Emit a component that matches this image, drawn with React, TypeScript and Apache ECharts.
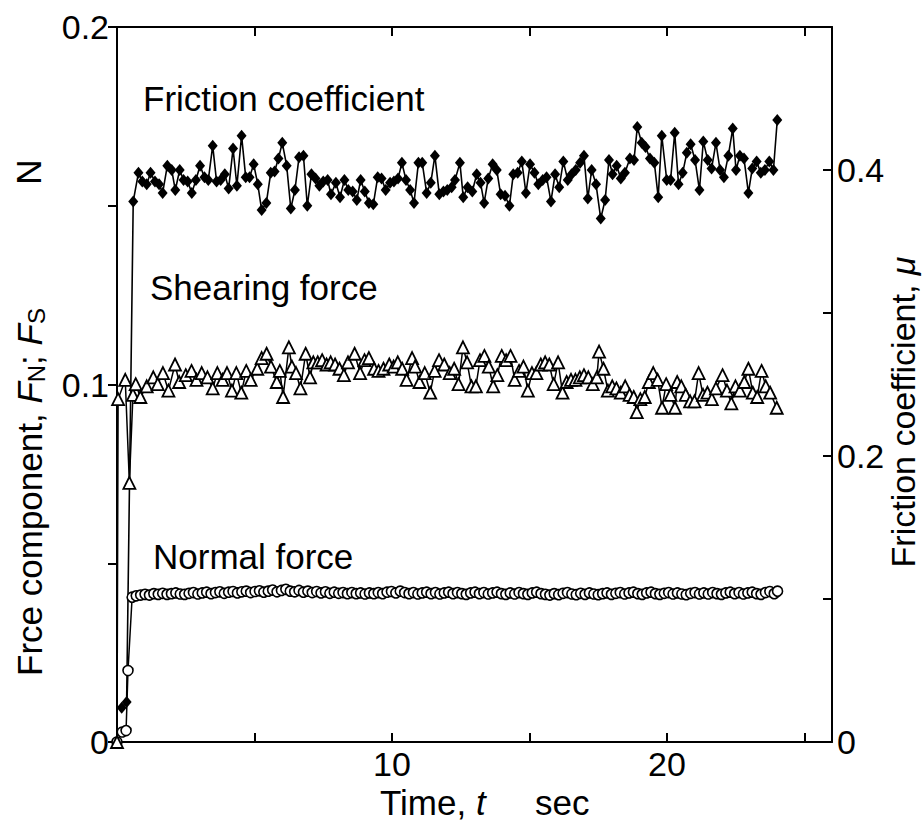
import React, { useEffect, useRef } from 'react';
import * as echarts from 'echarts';

const FONT = '"Liberation Sans", Arial, Helvetica, sans-serif';

const xLabelsShown = ['10', '20'];
const leftLabelsShown = ['0', '0.1', '0.2'];
const rightLabelsShown = ['0', '0.2', '0.4'];

const labelFriction = 'Friction coefficient';
const labelShearing = 'Shearing force';
const labelNormal = 'Normal force';

// [time s, friction coefficient µ] (right axis)
const frictionCoefficient: [number, number][] = [
  [0.17, 0.024], [0.35, 0.028], [0.59, 0.378], [0.78, 0.398], [0.92, 0.392], [1.08, 0.390], [1.22, 0.398],
  [1.38, 0.392], [1.53, 0.390], [1.66, 0.384], [1.83, 0.403], [1.99, 0.400], [2.12, 0.386], [2.28, 0.400],
  [2.42, 0.393], [2.57, 0.392], [2.72, 0.384], [2.87, 0.393], [3.02, 0.403], [3.18, 0.395], [3.32, 0.393],
  [3.48, 0.417], [3.62, 0.392], [3.77, 0.393], [3.92, 0.397], [4.06, 0.387], [4.22, 0.415], [4.36, 0.389],
  [4.53, 0.424], [4.68, 0.395], [4.82, 0.395], [4.97, 0.404], [5.12, 0.390], [5.26, 0.372], [5.43, 0.377],
  [5.59, 0.398], [5.73, 0.399], [5.87, 0.408], [6.01, 0.419], [6.17, 0.403], [6.32, 0.373], [6.47, 0.386],
  [6.62, 0.409], [6.78, 0.410], [6.92, 0.375], [7.07, 0.397], [7.22, 0.394], [7.36, 0.389], [7.50, 0.392],
  [7.66, 0.393], [7.78, 0.383], [7.96, 0.391], [8.11, 0.381], [8.27, 0.393], [8.41, 0.386], [8.57, 0.385],
  [8.72, 0.379], [8.86, 0.393], [9.01, 0.385], [9.16, 0.377], [9.32, 0.376], [9.48, 0.395], [9.62, 0.394],
  [9.77, 0.386], [9.93, 0.391], [10.07, 0.392], [10.22, 0.394], [10.36, 0.405], [10.51, 0.393], [10.66, 0.386],
  [10.80, 0.377], [10.96, 0.405], [11.10, 0.405], [11.26, 0.384], [11.41, 0.391], [11.56, 0.410], [11.72, 0.383],
  [11.87, 0.385], [12.01, 0.386], [12.17, 0.388], [12.29, 0.393], [12.47, 0.405], [12.59, 0.381], [12.75, 0.388],
  [12.92, 0.385], [13.08, 0.397], [13.22, 0.391], [13.35, 0.377], [13.50, 0.394], [13.66, 0.404], [13.81, 0.400],
  [13.95, 0.383], [14.11, 0.382], [14.27, 0.375], [14.41, 0.397], [14.57, 0.398], [14.72, 0.406], [14.87, 0.384],
  [15.02, 0.404], [15.18, 0.398], [15.32, 0.390], [15.48, 0.393], [15.62, 0.395], [15.78, 0.378], [15.93, 0.397],
  [16.08, 0.388], [16.23, 0.406], [16.39, 0.393], [16.53, 0.397], [16.68, 0.400], [16.84, 0.405], [16.98, 0.410],
  [17.12, 0.380], [17.26, 0.400], [17.42, 0.390], [17.59, 0.366], [17.75, 0.379], [17.89, 0.407], [18.02, 0.397],
  [18.17, 0.403], [18.32, 0.394], [18.47, 0.398], [18.65, 0.408], [18.80, 0.407], [18.92, 0.430], [19.08, 0.419],
  [19.22, 0.416], [19.38, 0.408], [19.54, 0.405], [19.68, 0.381], [19.81, 0.424], [19.99, 0.393], [20.13, 0.393],
  [20.28, 0.426], [20.42, 0.390], [20.57, 0.398], [20.72, 0.412], [20.86, 0.418], [21.02, 0.407], [21.18, 0.386],
  [21.32, 0.420], [21.48, 0.407], [21.62, 0.401], [21.78, 0.419], [21.93, 0.400], [22.07, 0.395], [22.23, 0.410],
  [22.39, 0.429], [22.51, 0.400], [22.65, 0.410], [22.80, 0.408], [22.96, 0.384], [23.10, 0.401], [23.26, 0.406],
  [23.41, 0.398], [23.56, 0.400], [23.72, 0.406], [23.87, 0.400], [24.01, 0.435],
];

// [time s, shearing force N] (left axis)
const shearingForce: [number, number][] = [
  [0, 0], [0.04, 0.0959], [0.30, 0.1013], [0.45, 0.0725], [0.58, 0.0971], [0.68, 0.1001], [0.85, 0.0965],
  [1.08, 0.0995], [1.32, 0.1020], [1.48, 0.1001], [1.67, 0.1032], [1.87, 0.0983], [2.11, 0.1056], [2.26, 0.1007],
  [2.50, 0.1026], [2.71, 0.1038], [2.89, 0.1013], [3.08, 0.1032], [3.29, 0.1020], [3.48, 0.0989], [3.65, 0.1032],
  [3.84, 0.1013], [4.00, 0.1032], [4.18, 0.0983], [4.34, 0.1032], [4.52, 0.0977], [4.70, 0.1038], [4.86, 0.1013],
  [5.10, 0.1044], [5.26, 0.1074], [5.44, 0.1086], [5.60, 0.1050], [5.81, 0.1007], [5.92, 0.1038], [6.04, 0.0965],
  [6.25, 0.1104], [6.36, 0.1050], [6.51, 0.1032], [6.67, 0.0989], [6.86, 0.1086], [7.02, 0.1020], [7.14, 0.1062],
  [7.30, 0.1062], [7.46, 0.1068], [7.62, 0.1056], [7.77, 0.1062], [7.93, 0.1056], [8.09, 0.1044], [8.25, 0.1026],
  [8.40, 0.1062], [8.64, 0.1086], [8.84, 0.1032], [9.00, 0.1068], [9.16, 0.1074], [9.35, 0.1044], [9.51, 0.1038],
  [9.69, 0.1044], [9.90, 0.1056], [10.06, 0.1050], [10.21, 0.1062], [10.37, 0.1044], [10.53, 0.1013], [10.73, 0.1074],
  [10.84, 0.1050], [11.00, 0.1007], [11.19, 0.1032], [11.39, 0.0977], [11.55, 0.1038], [11.71, 0.1068], [11.90, 0.1056],
  [12.10, 0.1032], [12.26, 0.1044], [12.42, 0.1001], [12.58, 0.1104], [12.73, 0.1062], [12.89, 0.0995], [13.05, 0.0995],
  [13.20, 0.1068], [13.36, 0.1080], [13.52, 0.1050], [13.68, 0.0995], [13.83, 0.1026], [13.99, 0.1080], [14.15, 0.1068],
  [14.31, 0.1080], [14.46, 0.1013], [14.62, 0.1038], [14.78, 0.1050], [14.94, 0.0983], [15.09, 0.1032], [15.25, 0.1032],
  [15.41, 0.1056], [15.57, 0.1062], [15.72, 0.1056], [15.88, 0.1001], [16.04, 0.1062], [16.20, 0.0977], [16.35, 0.1007],
  [16.51, 0.1013], [16.67, 0.1013], [16.83, 0.1020], [16.98, 0.1026], [17.14, 0.1020], [17.30, 0.1001], [17.45, 0.1020],
  [17.53, 0.1092], [17.69, 0.1044], [17.85, 0.0983], [18.01, 0.0995], [18.16, 0.0989], [18.32, 0.0977], [18.48, 0.0995],
  [18.64, 0.0971], [18.79, 0.0965], [18.90, 0.0923], [19.03, 0.0959], [19.19, 0.0965], [19.34, 0.1007], [19.50, 0.1032],
  [19.66, 0.1013], [19.82, 0.0935], [19.97, 0.1001], [20.13, 0.0971], [20.29, 0.0935], [20.37, 0.1007], [20.52, 0.0995],
  [20.68, 0.0971], [20.84, 0.0953], [21.00, 0.0953], [21.15, 0.1032], [21.31, 0.0971], [21.47, 0.0977], [21.63, 0.0959],
  [21.78, 0.0989], [22.02, 0.1026], [22.18, 0.0983], [22.34, 0.0947], [22.49, 0.0995], [22.65, 0.0983], [22.81, 0.1007],
  [22.96, 0.1044], [23.12, 0.0977], [23.28, 0.0965], [23.44, 0.1038], [23.59, 0.0995], [23.75, 0.0977], [23.99, 0.0935],
];

// [time s, normal force N] (left axis)
const normalForce: [number, number][] = [
  [0, 0], [0.19, 0.0028], [0.33, 0.0032], [0.40, 0.020], [0.55, 0.0405], [0.70, 0.0409], [0.86, 0.0411],
  [1.02, 0.0413], [1.18, 0.0411], [1.34, 0.0415], [1.50, 0.0413], [1.66, 0.0416], [1.82, 0.0413], [1.98, 0.0415],
  [2.14, 0.0417], [2.30, 0.0414], [2.46, 0.0413], [2.62, 0.0416], [2.78, 0.0418], [2.94, 0.0414], [3.10, 0.0417],
  [3.26, 0.0419], [3.42, 0.0415], [3.58, 0.0418], [3.74, 0.0420], [3.90, 0.0416], [4.06, 0.0419], [4.22, 0.0421],
  [4.38, 0.0417], [4.54, 0.0420], [4.70, 0.0422], [4.86, 0.0418], [5.02, 0.0421], [5.18, 0.0423], [5.34, 0.0419],
  [5.50, 0.0422], [5.66, 0.0425], [5.82, 0.0420], [5.98, 0.0424], [6.14, 0.0427], [6.30, 0.0422], [6.46, 0.0420],
  [6.62, 0.0424], [6.78, 0.0419], [6.94, 0.0422], [7.10, 0.0418], [7.26, 0.0421], [7.42, 0.0417], [7.58, 0.0420],
  [7.74, 0.0416], [7.90, 0.0419], [8.06, 0.0416], [8.22, 0.0418], [8.38, 0.0415], [8.54, 0.0418], [8.70, 0.0415],
  [8.86, 0.0417], [9.02, 0.0414], [9.18, 0.0417], [9.34, 0.0415], [9.50, 0.0418], [9.66, 0.0415], [9.82, 0.0419],
  [9.98, 0.0421], [10.14, 0.0417], [10.30, 0.0422], [10.46, 0.0418], [10.62, 0.0415], [10.78, 0.0418], [10.94, 0.0414],
  [11.10, 0.0417], [11.26, 0.0419], [11.42, 0.0415], [11.58, 0.0418], [11.74, 0.0414], [11.90, 0.0417], [12.06, 0.0419],
  [12.22, 0.0415], [12.38, 0.0418], [12.54, 0.0415], [12.70, 0.0413], [12.86, 0.0417], [13.02, 0.0419], [13.18, 0.0415],
  [13.34, 0.0418], [13.50, 0.0414], [13.66, 0.0417], [13.82, 0.0419], [13.98, 0.0415], [14.14, 0.0413], [14.30, 0.0417],
  [14.46, 0.0414], [14.62, 0.0418], [14.78, 0.0415], [14.94, 0.0413], [15.10, 0.0417], [15.26, 0.0419], [15.42, 0.0415],
  [15.58, 0.0413], [15.74, 0.0411], [15.90, 0.0415], [16.06, 0.0412], [16.22, 0.0416], [16.38, 0.0418], [16.54, 0.0414],
  [16.70, 0.0412], [16.86, 0.0416], [17.02, 0.0413], [17.18, 0.0417], [17.34, 0.0414], [17.50, 0.0412], [17.66, 0.0415],
  [17.82, 0.0417], [17.98, 0.0413], [18.14, 0.0416], [18.30, 0.0418], [18.46, 0.0414], [18.62, 0.0417], [18.78, 0.0419],
  [18.94, 0.0415], [19.10, 0.0413], [19.26, 0.0417], [19.42, 0.0419], [19.58, 0.0415], [19.74, 0.0413], [19.90, 0.0416],
  [20.06, 0.0418], [20.22, 0.0414], [20.38, 0.0417], [20.54, 0.0414], [20.70, 0.0412], [20.86, 0.0416], [21.02, 0.0418],
  [21.18, 0.0414], [21.34, 0.0417], [21.50, 0.0414], [21.66, 0.0418], [21.82, 0.0415], [21.98, 0.0413], [22.14, 0.0417],
  [22.30, 0.0419], [22.46, 0.0415], [22.62, 0.0418], [22.78, 0.0414], [22.94, 0.0417], [23.10, 0.0419], [23.26, 0.0415],
  [23.42, 0.0413], [23.58, 0.0418], [23.74, 0.0421], [23.90, 0.0415], [24.02, 0.0422],
];

const BLACK = '#000';
const TICK_FONT = 34;
const TITLE_FONT = 35;

function pick(shown: string[]) {
  return (v: number) => {
    const s = String(Math.round(v * 1000) / 1000);
    return shown.includes(s) ? s : '';
  };
}

export default function App() {
  const ref = useRef<HTMLDivElement>(null);

  useEffect(() => {
    if (!ref.current) return;
    const chart = echarts.init(ref.current, undefined, { renderer: 'svg' });

    const axisLine = { show: true, onZero: false, lineStyle: { color: BLACK, width: 2 } };
    const tickStyle = { color: BLACK, width: 2 };
    const labelBase = { color: BLACK, fontSize: TICK_FONT, fontFamily: FONT };

    const option: any = {
      animation: false,
      backgroundColor: '#fff',
      grid: { left: 117, right: 91, top: 27, bottom: 78, containLabel: false },
      xAxis: [
        {
          type: 'value', min: 0, max: 26, interval: 5, position: 'bottom',
          axisLine, axisTick: { show: true, inside: true, length: 9, lineStyle: tickStyle },
          axisLabel: { ...labelBase, margin: 5, formatter: pick(xLabelsShown), showMaxLabel: false },
          splitLine: { show: false },
        },
        {
          type: 'value', min: 0, max: 26, interval: 5, position: 'top',
          axisLine, axisTick: { show: true, inside: true, length: 9, lineStyle: tickStyle },
          axisLabel: { show: false }, splitLine: { show: false },
        },
      ],
      yAxis: [
        {
          type: 'value', min: 0, max: 0.2, interval: 0.05, position: 'left',
          axisLine, axisTick: { show: true, inside: false, length: 9, lineStyle: tickStyle },
          axisLabel: { ...labelBase, margin: 8, formatter: pick(leftLabelsShown) },
          splitLine: { show: false },
        },
        {
          type: 'value', min: 0, max: 0.5, interval: 0.1, position: 'right',
          axisLine, axisTick: { show: true, inside: true, length: 9, lineStyle: tickStyle },
          axisLabel: { ...labelBase, margin: 5, formatter: pick(rightLabelsShown) },
          splitLine: { show: false },
        },
      ],
      series: [
        {
          name: labelNormal, type: 'line', xAxisIndex: 0, yAxisIndex: 0, data: normalForce,
          symbol: 'circle', symbolSize: 10, showAllSymbol: true,
          lineStyle: { color: BLACK, width: 1.5 },
          itemStyle: { color: '#fff', borderColor: BLACK, borderWidth: 1.6 },
        },
        {
          name: labelShearing, type: 'line', xAxisIndex: 0, yAxisIndex: 0, data: shearingForce,
          symbol: 'triangle', symbolSize: 12, showAllSymbol: true,
          lineStyle: { color: BLACK, width: 1.5 },
          itemStyle: { color: '#fff', borderColor: BLACK, borderWidth: 1.8 },
        },
        {
          name: labelFriction, type: 'line', xAxisIndex: 0, yAxisIndex: 1, data: frictionCoefficient,
          symbol: 'diamond', symbolSize: [10, 12], showAllSymbol: true,
          lineStyle: { color: BLACK, width: 1.6 },
          itemStyle: { color: BLACK },
        },
      ],
      graphic: [
        {
          type: 'text', x: 143, y: 98, silent: true,
          style: { text: labelFriction, fill: BLACK, fontSize: TITLE_FONT, fontFamily: FONT, align: 'left', verticalAlign: 'middle' },
        },
        {
          type: 'text', x: 150, y: 287, silent: true,
          style: { text: labelShearing, fill: BLACK, fontSize: TITLE_FONT, fontFamily: FONT, align: 'left', verticalAlign: 'middle' },
        },
        {
          type: 'text', x: 153, y: 556, silent: true,
          style: { text: labelNormal, fill: BLACK, fontSize: TITLE_FONT, fontFamily: FONT, align: 'left', verticalAlign: 'middle' },
        },
        {
          type: 'text', x: 380, y: 802, silent: true,
          style: {
            text: '{a|Time, }{i|t}', fill: BLACK, fontSize: TITLE_FONT, fontFamily: FONT, align: 'left', verticalAlign: 'middle',
            rich: {
              a: { fontSize: TITLE_FONT, fontFamily: FONT, fill: BLACK },
              i: { fontSize: TITLE_FONT, fontFamily: FONT, fontStyle: 'italic', fill: BLACK },
            },
          },
        },
        {
          type: 'text', x: 535, y: 802, silent: true,
          style: { text: 'sec', fill: BLACK, fontSize: TITLE_FONT, fontFamily: FONT, align: 'left', verticalAlign: 'middle' },
        },
        {
          type: 'text', x: 30, y: 492, rotation: Math.PI / 2, silent: true,
          style: {
            text: '{a|Frce component, }{i|F}{s|N}{a|; }{i|F}{s|S}',
            fill: BLACK, fontSize: TITLE_FONT, fontFamily: FONT, align: 'center', verticalAlign: 'middle',
            rich: {
              a: { fontSize: TITLE_FONT, fontFamily: FONT, fill: BLACK, lineHeight: 36, verticalAlign: 'top' },
              i: { fontSize: TITLE_FONT, fontFamily: FONT, fontStyle: 'italic', fill: BLACK, lineHeight: 36, verticalAlign: 'top' },
              s: { fontSize: 24, fontFamily: FONT, fill: BLACK, lineHeight: 24, padding: [20, 0, 0, 0], verticalAlign: 'bottom' },
            },
          },
        },
        {
          type: 'text', x: 28, y: 172, rotation: Math.PI / 2, silent: true,
          style: { text: 'N', fill: BLACK, fontSize: TITLE_FONT, fontFamily: FONT, align: 'center', verticalAlign: 'middle' },
        },
        {
          type: 'text', x: 903, y: 412, rotation: Math.PI / 2, silent: true,
          style: {
            text: '{a|Friction coefficient, }{i|μ}',
            fill: BLACK, fontSize: 34, fontFamily: FONT, align: 'center', verticalAlign: 'middle',
            rich: {
              a: { fontSize: 34, fontFamily: FONT, fill: BLACK },
              i: { fontSize: 34, fontFamily: FONT, fontStyle: 'italic', fill: BLACK },
            },
          },
        },
      ],
    };

    chart.setOption(option);
    return () => chart.dispose();
  }, []);

  return <div ref={ref} style={{ position: 'absolute', left: 0, top: 0, width: 923, height: 820 }} />;
}
